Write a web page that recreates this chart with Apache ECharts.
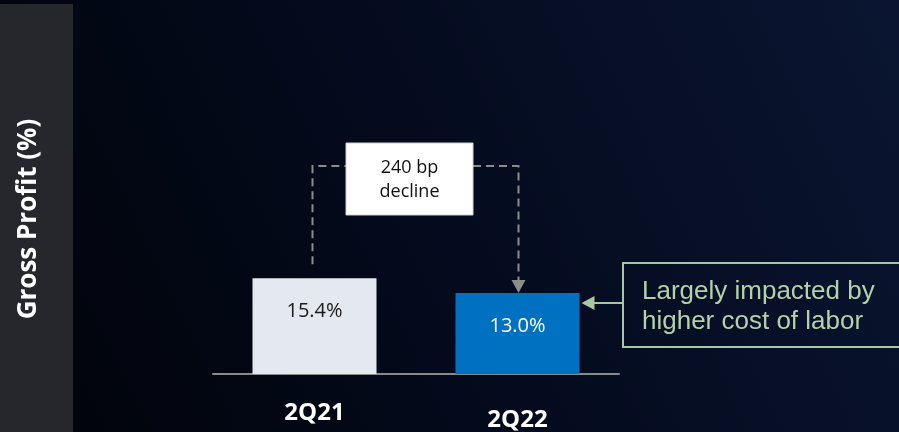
<!DOCTYPE html>
<html><head><meta charset="utf-8">
<script src="https://cdn.jsdelivr.net/npm/echarts@6/dist/echarts.min.js"></script>
<style>html,body{margin:0;padding:0;background:#05070f;}#c{width:899px;height:432px;}</style>
</head><body><div id="c"></div>
<script>
const categories = ['2Q21', '2Q22'];
const grossProfit = [15.4, 13.0];
const barColors = ['#e3e9ee', '#0070c0'];
const labelColors = ['#1a1a1a', '#ffffff'];
const yAxisTitle = 'Gross Profit (%)';
const changeNote = ['240 bp', 'decline'];
const calloutNote = ['Largely impacted by', 'higher cost of labor'];

const chart = echarts.init(document.getElementById('c'), null, {renderer: 'canvas'});
const option = {
  backgroundColor: {
    type: 'linear', x: 0, y: 1, x2: 1, y2: 0,
    colorStops: [{offset: 0, color: '#010309'}, {offset: 0.5, color: '#040b1e'}, {offset: 1, color: '#0a1531'}]
  },
  animation: false,
  grid: {left: 213, right: 280, top: 125, bottom: 55},
  xAxis: {
    type: 'category',
    data: categories.map((c, i) => ({value: c, textStyle: {padding: [i === 0 ? 0 : 7, 0, 0, 0]}})),
    axisLine: {lineStyle: {color: '#8a8a8a', width: 2}},
    axisTick: {show: false},
    axisLabel: {color: '#ffffff', fontFamily: 'Open Sans', fontWeight: 'bold', fontSize: 24, margin: 27}
  },
  yAxis: {type: 'value', min: 0, max: 40, show: false, splitLine: {show: false}},
  series: [{
    type: 'bar',
    barWidth: 124,
    data: grossProfit.map((v, i) => ({
      value: v,
      itemStyle: {color: barColors[i]},
      label: {color: labelColors[i]}
    })),
    label: {
      show: true, position: 'insideTop', distance: 23,
      fontFamily: 'Open Sans', fontSize: 20,
      formatter: p => p.value.toFixed(1) + '%'
    }
  }]
};
chart.setOption(option);

const p0 = chart.convertToPixel({seriesIndex: 0}, [0, grossProfit[0]]);
const p1 = chart.convertToPixel({seriesIndex: 0}, [1, grossProfit[1]]);
const x0 = p0[0] - 2, x1 = p1[0] + 1;
const lineY = 166;
const boxL = 346, boxR = 473, boxT = 143, boxB = 215;
const dash = {stroke: '#8c8c8c', lineWidth: 2, lineDash: [8, 5]};
const barRight = p1[0] + 62;

chart.setOption({
  graphic: [
    {type: 'rect', shape: {x: 0, y: 4, width: 73, height: 428}, style: {fill: '#25272c'}, z: 10},
    {type: 'text', x: 29, y: 219, rotation: Math.PI / 2, z: 11,
      style: {text: yAxisTitle, fill: '#ffffff', font: 'bold 26px "Open Sans"', align: 'center', verticalAlign: 'middle'}},
    {type: 'polyline', shape: {points: [[x0, p0[1] - 14], [x0, lineY], [boxL, lineY]]}, style: Object.assign({fill: null}, dash), z: 10},
    {type: 'polyline', shape: {points: [[boxR, lineY], [x1, lineY], [x1, p1[1] - 12]]}, style: Object.assign({fill: null}, dash), z: 10},
    {type: 'polygon', shape: {points: [[x1 - 7, p1[1] - 13], [x1 + 7, p1[1] - 13], [x1, p1[1]]]}, style: {fill: '#8c8c8c'}, z: 10},
    {type: 'rect', shape: {x: boxL, y: boxT, width: boxR - boxL, height: boxB - boxT}, style: {fill: '#ffffff', stroke: '#d0d0d0', lineWidth: 1}, z: 10},
    {type: 'text', x: (boxL + boxR) / 2, y: 168, z: 11,
      style: {text: changeNote[0], fill: '#111111', font: '18px "Open Sans"', align: 'center', verticalAlign: 'middle'}},
    {type: 'text', x: (boxL + boxR) / 2, y: 192, z: 11,
      style: {text: changeNote[1], fill: '#111111', font: '18px "Open Sans"', align: 'center', verticalAlign: 'middle'}},
    {type: 'rect', shape: {x: 623, y: 263, width: 290, height: 84}, style: {fill: 'rgba(0,0,0,0)', stroke: '#a9c7a2', lineWidth: 2}, z: 10},
    {type: 'line', shape: {x1: 623, y1: 303, x2: barRight + 12, y2: 303}, style: {stroke: '#a9c7a2', lineWidth: 2}, z: 10},
    {type: 'polygon', shape: {points: [[barRight + 2, 303], [barRight + 15, 296], [barRight + 15, 310]]}, style: {fill: '#a9c7a2'}, z: 10},
    {type: 'text', x: 642, y: 292, z: 11,
      style: {text: calloutNote[0], fill: '#b4d1ac', font: '26px "Liberation Sans"', align: 'left', verticalAlign: 'middle'}},
    {type: 'text', x: 642, y: 322, z: 11,
      style: {text: calloutNote[1], fill: '#b4d1ac', font: '26px "Liberation Sans"', align: 'left', verticalAlign: 'middle'}}
  ]
});
</script></body></html>
